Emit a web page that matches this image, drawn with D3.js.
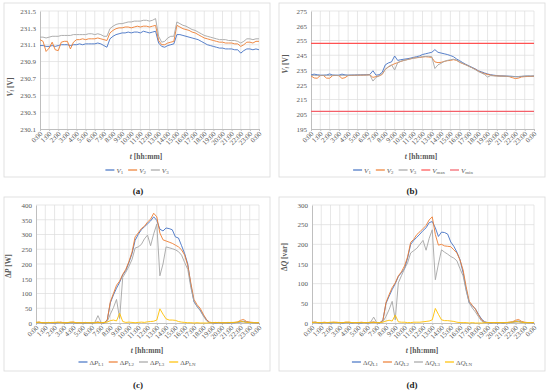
<!DOCTYPE html>
<html>
<head>
<meta charset="utf-8">
<script src="https://cdn.jsdelivr.net/npm/d3@7"></script>
<style>
  body { margin: 0; background: #fff; }
  svg { font-family: "Liberation Serif", "Times New Roman", serif; }
</style>
</head>
<body>
<svg id="chart" width="550" height="390"></svg>
<script>
// one sample every 20 minutes, 0:00 .. 24:00 (73 samples)
const stepMinutes = 20;
const hourLabels = ["0:00","1:00","2:00","3:00","4:00","5:00","6:00","7:00","8:00","9:00","10:00","11:00",
  "12:00","13:00","14:00","15:00","16:00","17:00","18:00","19:00","20:00","21:00","22:00","23:00","0:00"];

// (a) phase voltages [V]
const aV1 = [231.09,231.09,231.08,231.08,231.09,231.08,231.09,231.10,231.10,231.10,231.09,231.10,
  231.10,231.11,231.10,231.11,231.11,231.11,231.11,231.12,231.11,231.09,231.07,231.17,
  231.20,231.22,231.23,231.24,231.24,231.25,231.24,231.25,231.25,231.24,231.26,231.25,
  231.24,231.25,231.26,231.12,231.08,231.07,231.09,231.10,231.11,231.22,231.22,231.21,
  231.20,231.19,231.18,231.17,231.16,231.14,231.12,231.10,231.09,231.08,231.07,231.06,
  231.06,231.05,231.05,231.05,231.04,231.04,231.00,231.03,231.05,231.05,231.04,231.05,231.04];
const aV2 = [231.16,231.14,231.02,231.06,231.13,231.04,231.03,231.13,231.14,231.14,231.05,231.13,
  231.16,231.16,231.17,231.16,231.17,231.17,231.17,231.18,231.17,231.16,231.15,231.24,
  231.27,231.29,231.30,231.30,231.31,231.31,231.30,231.31,231.32,231.31,231.32,231.32,
  231.31,231.32,231.33,231.15,231.10,231.10,231.12,231.13,231.14,231.33,231.31,231.29,
  231.28,231.27,231.25,231.24,231.22,231.20,231.18,231.17,231.16,231.15,231.14,231.13,
  231.13,231.12,231.12,231.12,231.11,231.11,231.08,231.10,231.13,231.13,231.12,231.14,231.14];
const aV3 = [231.19,231.19,231.18,231.19,231.20,231.20,231.20,231.21,231.21,231.21,231.21,231.22,
  231.22,231.22,231.22,231.22,231.23,231.23,231.22,231.23,231.22,231.20,231.20,231.29,
  231.32,231.34,231.35,231.35,231.36,231.37,231.37,231.38,231.38,231.38,231.39,231.39,
  231.38,231.39,231.41,231.20,231.13,231.14,231.18,231.20,231.20,231.37,231.35,231.33,
  231.32,231.30,231.28,231.27,231.25,231.23,231.21,231.20,231.19,231.18,231.17,231.16,
  231.16,231.16,231.15,231.15,231.15,231.14,231.12,231.14,231.17,231.17,231.16,231.17,231.17];

// (b) phase voltages [V] and limits
const bV1 = [231.6,232.2,231.8,231.5,231.5,231.6,232.3,231.6,231.5,231.5,232.2,231.7,
  231.5,231.6,231.6,231.7,231.7,231.8,231.8,232.0,234.5,231.5,231.8,233.5,
  238.5,239.8,240.5,244.5,241.5,242.0,242.3,242.6,243.0,243.5,244.0,244.5,
  245.5,246.0,246.5,247.0,248.8,247.0,246.5,246.0,245.5,244.8,244.0,242.5,
  241.3,240.0,238.8,237.8,236.8,235.8,234.5,233.8,233.0,232.3,231.8,231.5,
  231.2,231.0,231.0,230.9,230.8,230.7,230.5,230.4,230.6,230.8,230.9,230.8,230.9];
const bV2 = [231.0,229.6,229.4,231.2,231.3,229.5,229.4,231.2,231.3,231.2,229.3,229.8,
  231.3,231.3,231.4,231.4,231.5,231.5,231.6,231.7,230.0,230.5,231.0,232.0,
  235.5,237.0,238.2,239.3,240.0,240.8,241.5,242.0,242.5,243.0,243.3,243.5,
  243.8,244.0,243.8,243.5,240.5,240.0,240.2,240.8,241.3,241.5,242.0,241.5,
  240.2,239.3,238.5,237.5,236.5,235.5,234.3,233.3,232.5,232.0,231.5,231.2,
  231.0,230.9,230.8,230.7,230.5,229.8,229.2,229.5,230.3,230.5,230.6,230.7,230.8];
const bV3 = [231.3,231.4,231.3,231.3,231.4,231.4,231.3,231.4,231.4,231.3,231.4,231.4,
  231.4,231.5,231.5,231.5,231.6,231.6,231.6,231.7,227.5,230.0,231.0,232.5,
  235.5,237.3,238.5,235.0,240.0,241.0,241.5,242.0,242.5,243.0,243.3,243.7,
  244.0,244.2,244.3,244.0,236.0,238.5,239.5,240.8,241.5,242.0,242.3,241.8,
  240.5,239.5,238.5,237.5,236.5,235.3,234.0,233.0,232.0,230.2,231.2,231.0,
  230.9,230.9,230.8,230.8,230.7,230.6,230.5,230.6,230.8,230.9,231.0,230.9,231.0];
const vMax = 253;
const vMin = 207;

// (c) active power losses [W]
const cP1 = [1,2,1,0,1,1,0,1,2,1,0,1,
  1,0,1,0,0,1,0,1,3,1,0,10,
  68,95,118,138,163,178,205,235,280,300,316,326,
  336,346,360,348,318,312,322,320,316,292,288,262,
  235,200,128,72,56,44,26,12,2,1,0,1,
  0,1,0,1,1,2,4,6,3,2,1,1,0];
const cP2 = [2,3,1,1,2,1,1,2,3,1,1,2,
  3,1,1,1,2,1,1,2,3,1,1,10,
  72,100,128,142,165,182,208,240,292,305,320,328,
  342,352,372,360,305,282,278,274,270,264,258,248,
  230,195,135,80,62,50,30,12,3,1,1,2,
  1,1,2,1,2,3,9,12,5,3,2,1,1];
const cP3 = [1,1,0,1,1,0,1,1,1,0,1,1,
  0,1,1,0,1,1,1,2,25,2,1,5,
  30,52,80,15,155,172,192,215,254,258,266,285,
  298,262,302,335,160,200,258,255,252,248,242,230,
  205,182,120,74,56,42,24,8,1,1,0,1,
  0,1,1,1,1,2,3,4,2,1,1,1,0];
const cPN = [2,3,1,1,1,2,2,3,1,1,1,3,
  3,1,1,1,1,1,1,1,2,1,2,3,
  8,10,7,33,5,2,3,2,1,2,3,2,
  4,5,6,10,48,30,14,10,10,9,5,3,
  2,1,1,0,1,0,0,0,1,1,2,1,
  1,1,1,2,2,3,6,4,2,2,1,1,1];

// (d) reactive power losses [var]
const dQ1 = [1,2,1,0,1,1,0,1,1,1,0,1,
  1,0,1,0,0,1,0,1,2,1,0,8,
  50,68,85,100,118,128,138,165,200,210,218,226,
  235,242,255,258,242,220,231,230,226,206,195,180,
  161,128,85,51,44,36,22,10,3,1,0,1,
  0,1,0,1,1,2,4,5,2,1,1,1,0];
const dQ2 = [2,2,1,1,2,1,1,2,2,1,1,2,
  2,1,1,1,2,1,1,2,2,1,1,6,
  52,72,90,102,120,130,145,168,205,213,225,232,
  240,248,262,270,225,198,200,196,195,194,186,178,
  160,135,92,55,45,35,20,8,2,1,1,1,
  1,1,1,1,2,3,7,9,4,2,1,1,1];
const dQ3 = [1,1,0,1,1,0,1,1,1,0,1,1,
  0,1,1,0,1,1,1,2,15,1,1,3,
  17,34,55,8,102,120,138,153,178,184,190,200,
  210,185,215,237,110,150,186,180,175,169,165,158,
  138,120,82,51,38,28,16,5,1,1,0,1,
  0,1,1,1,1,2,2,3,2,1,1,1,0];
const dQN = [1,2,1,1,1,1,2,2,1,1,1,2,
  2,1,1,1,1,1,1,1,2,1,1,2,
  5,7,5,20,3,2,2,1,1,2,2,2,
  3,4,5,8,37,22,8,6,6,5,4,2,
  1,1,1,0,1,0,0,0,1,1,1,1,
  1,1,1,1,2,2,4,3,2,1,1,1,1];

const blue = "#4472c4", orange = "#ed7d31", gray = "#a5a5a5", yellow = "#ffc000";
const textColor = "#595959";

const svg = d3.select("#chart");

// writes rich text parts (italic / subscript) into a text element
function richText(sel, parts, size) {
  parts.forEach(p => {
    const t = sel.append("tspan").text(p.t);
    if (p.it) t.style("font-style", "italic");
    if (p.sub) t.attr("font-size", size * 0.7).attr("baseline-shift", "-25%");
  });
}

function drawPanel(p) {
  const g = svg.append("g");

  g.append("rect")
    .attr("x", p.box[0]).attr("y", p.box[1])
    .attr("width", p.box[2]).attr("height", p.box[3])
    .attr("fill", "#fff").attr("stroke", "#d9d9d9").attr("stroke-width", 0.8);

  const x = d3.scaleLinear().domain([0, 1440]).range([p.x0, p.x1]);
  const y = d3.scaleLinear().domain(p.yDomain).range([p.y1, p.y0]);
  const hourTicks = hourLabels.map((d, i) => i * 60);

  // grid
  g.append("g").selectAll("line").data(hourTicks.slice(1)).join("line")
    .attr("x1", d => x(d)).attr("x2", d => x(d))
    .attr("y1", p.y0).attr("y2", p.y1)
    .attr("stroke", "#dcdcdc").attr("stroke-width", 0.7);
  g.append("g").selectAll("line").data(p.yTicks.slice(1)).join("line")
    .attr("x1", p.x0).attr("x2", p.x1)
    .attr("y1", d => y(d)).attr("y2", d => y(d))
    .attr("stroke", "#dcdcdc").attr("stroke-width", 0.7);

  // axes
  const xAxis = g.append("g")
    .attr("transform", "translate(0," + p.y1 + ")")
    .call(d3.axisBottom(x).tickValues(hourTicks).tickFormat((d, i) => hourLabels[i]).tickSize(2).tickSizeOuter(0));
  xAxis.select(".domain").attr("stroke", "#bfbfbf");
  xAxis.selectAll(".tick line").attr("stroke", "#bfbfbf");
  xAxis.selectAll("text")
    .attr("x", -2).attr("y", 3).attr("dy", "0.35em")
    .attr("transform", "rotate(-45)")
    .style("text-anchor", "end")
    .attr("font-size", 7).attr("fill", textColor)
    .attr("font-family", "Liberation Serif, serif");

  const yAxis = g.append("g")
    .attr("transform", "translate(" + p.x0 + ",0)")
    .call(d3.axisLeft(y).tickValues(p.yTicks).tickFormat(p.fmt).tickSize(0).tickPadding(4));
  yAxis.select(".domain").attr("stroke", "#bfbfbf");
  yAxis.selectAll("text").attr("font-size", 7).attr("fill", textColor)
    .attr("font-family", "Liberation Serif, serif");

  // series
  const line = d3.line().x((d, i) => x(i * stepMinutes)).y(d => y(d));
  p.series.forEach(s => {
    if (s.values.length > 2) {
      g.append("path").datum(s.values)
        .attr("d", line).attr("fill", "none")
        .attr("stroke", s.color).attr("stroke-width", 0.9).attr("stroke-linejoin", "round");
    } else {
      // constant limit line across the whole day
      g.append("line")
        .attr("x1", x(0)).attr("x2", x(1440))
        .attr("y1", y(s.values[0])).attr("y2", y(s.values[1]))
        .attr("stroke", s.color).attr("stroke-width", 1.2);
    }
  });

  // y title
  const yt = g.append("text")
    .attr("transform", "translate(" + p.yTitle[0] + "," + p.yTitle[1] + ") rotate(-90)")
    .attr("text-anchor", "middle")
    .attr("font-size", 7.5).attr("font-weight", "bold").attr("fill", textColor);
  richText(yt, p.yLabel, 7.5);

  // x title
  const xt = g.append("text")
    .attr("x", p.xTitle[0]).attr("y", p.xTitle[1])
    .attr("text-anchor", "middle")
    .attr("font-size", 7.5).attr("font-weight", "bold").attr("fill", textColor);
  richText(xt, [{ t: "t", it: true }, { t: " [hh:mm]" }], 7.5);

  // legend
  const lg = g.append("g");
  let cx = 0;
  p.series.forEach(s => {
    lg.append("line")
      .attr("x1", cx).attr("x2", cx + 9).attr("y1", 0).attr("y2", 0)
      .attr("stroke", s.color).attr("stroke-width", 1.2);
    const t = lg.append("text")
      .attr("x", cx + 11).attr("y", 2.5)
      .attr("font-size", 7).attr("fill", textColor);
    richText(t, s.label, 7);
    cx += 11 + t.node().getComputedTextLength() + 5;
  });
  lg.attr("transform", "translate(" + (p.legend[0] - (cx - 5) / 2) + "," + p.legend[1] + ")");

  // panel letter
  g.append("text")
    .attr("x", p.letter[0]).attr("y", p.letter[1])
    .attr("text-anchor", "middle")
    .attr("font-size", 9).attr("font-weight", "bold").attr("fill", "#222")
    .text(p.letterText);
}

const vLabel = n => [{ t: "V", it: true }, { t: n, sub: true, it: n === "i" }];
const dLabel = (q, n) => [{ t: "Δ" }, { t: q, it: true }, { t: n, sub: true }];

drawPanel({
  box: [4, 3, 266, 174], x0: 40, x1: 259, y0: 11, y1: 129,
  yDomain: [230.1, 231.5],
  yTicks: [230.1, 230.3, 230.5, 230.7, 230.9, 231.1, 231.3, 231.5],
  fmt: d3.format(".1f"),
  yTitle: [13, 87], yLabel: vLabel("i").concat([{ t: " [V]" }]),
  xTitle: [146, 159], legend: [137, 170],
  letter: [138, 194], letterText: "(a)",
  series: [
    { values: aV1, color: blue, label: vLabel("1") },
    { values: aV2, color: orange, label: vLabel("2") },
    { values: aV3, color: gray, label: vLabel("3") }
  ]
});

drawPanel({
  box: [279, 3, 266, 174], x0: 311, x1: 534, y0: 11, y1: 129,
  yDomain: [195, 275],
  yTicks: [195, 205, 215, 225, 235, 245, 255, 265, 275],
  fmt: d3.format("d"),
  yTitle: [288, 64], yLabel: vLabel("i").concat([{ t: " [V]" }]),
  xTitle: [421, 159], legend: [413, 170],
  letter: [412, 194], letterText: "(b)",
  series: [
    { values: bV1, color: blue, label: vLabel("1") },
    { values: bV2, color: orange, label: vLabel("2") },
    { values: bV3, color: gray, label: vLabel("3") },
    { values: [vMax, vMax], color: "#ff5252", label: vLabel("max") },
    { values: [vMin, vMin], color: "#f4606a", label: vLabel("min") }
  ]
});

drawPanel({
  box: [4, 197, 266, 174], x0: 36, x1: 259, y0: 205, y1: 323,
  yDomain: [0, 400],
  yTicks: [0, 50, 100, 150, 200, 250, 300, 350, 400],
  fmt: d3.format("d"),
  yTitle: [11, 266], yLabel: [{ t: "Δ" }, { t: "P", it: true }, { t: " [W]" }],
  xTitle: [147, 353], legend: [137, 362],
  letter: [138, 388], letterText: "(c)",
  series: [
    { values: cP1, color: blue, label: dLabel("P", "L1") },
    { values: cP2, color: orange, label: dLabel("P", "L2") },
    { values: cP3, color: gray, label: dLabel("P", "L3") },
    { values: cPN, color: yellow, label: dLabel("P", "LN") }
  ]
});

drawPanel({
  box: [279, 197, 266, 174], x0: 312, x1: 534, y0: 205, y1: 323,
  yDomain: [0, 300],
  yTicks: [0, 50, 100, 150, 200, 250, 300],
  fmt: d3.format("d"),
  yTitle: [287, 257], yLabel: [{ t: "Δ" }, { t: "Q", it: true }, { t: " [var]" }],
  xTitle: [422, 353], legend: [412, 362],
  letter: [412, 388], letterText: "(d)",
  series: [
    { values: dQ1, color: blue, label: dLabel("Q", "L1") },
    { values: dQ2, color: orange, label: dLabel("Q", "L2") },
    { values: dQ3, color: gray, label: dLabel("Q", "L3") },
    { values: dQN, color: yellow, label: dLabel("Q", "LN") }
  ]
});
</script>
</body>
</html>
